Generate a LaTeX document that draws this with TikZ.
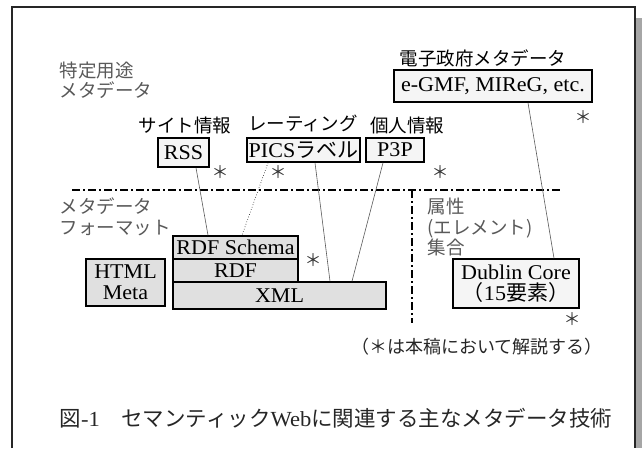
\documentclass[tikz,border=0pt]{standalone}
\usepackage{fontspec}
\setmainfont{Liberation Serif}[FakeStretch=1.05]
\newfontfamily\jp{Noto Sans CJK JP}
\tikzset{
  tagbox/.style={draw, line width=1.6pt, fill=black!4, inner sep=0pt,
    align=center, font=\fontsize{21}{21}\selectfont},
  fmtbox/.style={tagbox, fill=black!12},
  grouplbl/.style={anchor=west, align=left, text=black!65,
    font=\jp\fontsize{18.5}{20.5}\selectfont},
  kindlbl/.style={font=\jp\fontsize{18.5}{20}\selectfont},
  star/.style={font=\jp\fontsize{17}{17}\selectfont, text=black!80},
  link/.style={black!65, line width=0.6pt},
  divider/.style={line width=1.8pt, dash pattern=on 8pt off 3pt on 2pt off 3pt},
}
\begin{document}
\begin{tikzpicture}[x=1pt, y=-1pt]
        \useasboundingbox (0,0) rectangle (642,448);
        % Frame and shadow
        \fill[black!35] (636,18) rectangle (642,448);
        \draw[line width=1.6pt, black!85] (12,448) -- (12,7) -- (635,7) -- (635,448);
        % Group labels
        \node[grouplbl] (special) at (56,80)  {特定用途\\メタデータ};
        \node[grouplbl] (format)  at (56,217) {メタデータ\\フォーマット};
        \node[grouplbl] (attrset) at (424,227) {属性\\(エレメント)\\集合};
        % Special purpose metadata
        \node[kindlbl] (egovlbl) at (483,58)  {電子政府メタデータ};
        \node[kindlbl] (sitelbl) at (185,125) {サイト情報};
        \node[kindlbl] (ratelbl) at (303,123) {レーティング};
        \node[kindlbl] (perslbl) at (407,125) {個人情報};
        \node[tagbox, minimum width=198pt, minimum height=32pt] (egmf) at (493,86) {e-GMF, MIReG, etc.};
        \node[tagbox, minimum width=51pt,  minimum height=29pt] (rss)  at (183.5,152.5) {RSS};
        \node[tagbox, minimum width=113pt, minimum height=24pt] (pics) at (303.5,150) {PICS{\jp ラベル}};
        \node[tagbox, minimum width=58pt,  minimum height=24pt] (ppp)  at (395,150) {P3P};
        \node[star] (egmfstar) at (583,117) {＊};
        \node[star] (rssstar)  at (220,172) {＊};
        \node[star] (picsstar) at (278,172) {＊};
        \node[star] (pppstar)  at (440,172) {＊};
        % Dividers
        \coordinate (divleft)  at (72,190);
        \coordinate (divright) at (561,190);
        \coordinate (divtop)   at (412,190);
        \coordinate (divfoot)  at (412,323);
        \draw[divider] (divleft) -- (divright);
        \draw[divider] (divtop) -- (divfoot);
        % Formats
        \node[fmtbox, minimum width=125pt, minimum height=23pt] (rdfs) at (235.5,247.5) {RDF Schema};
        \node[fmtbox, minimum width=125pt, minimum height=23pt] (rdf)  at (235.5,270.5) {RDF};
        \node[fmtbox, minimum width=213pt, minimum height=27pt] (xml)  at (279.5,295.5) {XML};
        \node[fmtbox, minimum width=79pt,  minimum height=47pt] (html) at (125.5,282.5) {HTML\\Meta};
        \node[star] (rdfsstar) at (313,260) {＊};
        % Element sets
        \node[tagbox, minimum width=126pt, minimum height=49pt] (dc) at (516,283.5) {Dublin Core\\{\jp （}15{\jp 要素）}};
        \node[star] (dcstar) at (572,319) {＊};
        % Connect the nodes
        \draw[link] ([xshift=12.5pt]rss.south) -- ([xshift=-27.5pt]rdfs.north);
        \draw[black, line width=0.6pt, dotted] ([xshift=-35.5pt]pics.south) -- ([xshift=6.5pt]rdfs.north);
        \draw[link] ([xshift=11.5pt]pics.south) -- ([xshift=50.5pt]xml.north);
        \draw[link] ([xshift=-12pt]ppp.south) -- ([xshift=72.5pt]xml.north);
        \draw[link] ([xshift=35pt]egmf.south) -- ([xshift=38pt]dc.north);
        % Note and caption
        \node[font=\jp\fontsize{18}{18}\selectfont, text=black!85] (note) at (477,347) {（＊は本稿において解説する）};
        \node[font=\fontsize{21.5}{21.5}\selectfont, text=black!85] (caption) at (336,418)
          {{\jp 図}-1{\jp 　セマンティック}Web{\jp に関連する主なメタデータ技術}};
\end{tikzpicture}
\end{document}
